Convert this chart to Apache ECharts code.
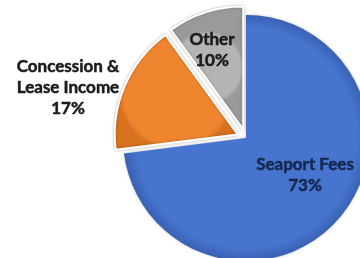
<!DOCTYPE html>
<html><head><meta charset="utf-8">
<script src="https://cdn.jsdelivr.net/npm/echarts@6/dist/echarts.min.js"></script>
<style>html,body{margin:0;padding:0;background:#fff}#c{width:360px;height:258px}</style>
</head><body><div id="c"></div>
<script>
const categories = ['Seaport Fees', 'Concession &\nLease Income', 'Other'];
const values = [73, 17, 10];
const explode = [0, 9, 9];

const colors = ['#4674CE', '#F0852F', '#B4B4B4'];
const edgeColors = ['#3A62B4', '#D8721F', '#9A9A9A'];
const labelColors = ['#16284F', '#1A1A1A', '#1A1A1A'];
const labelPos = [[305, 175], [68, 88], [212, 50]];

const CX = 246, CY = 138, R = 123;
const total = values.reduce((a, b) => a + b, 0);
let cum = 0;
const series = values.map((v, k) => {
  const mid = (cum + v / 2) / total * 2 * Math.PI;
  cum += v;
  const dx = explode[k] * Math.sin(mid), dy = -explode[k] * Math.cos(mid);
  return {
    type: 'pie',
    center: [CX + dx, CY + dy],
    radius: [0, R],
    startAngle: 90,
    clockwise: true,
    silent: true,
    labelLine: {show: false},
    emphasis: {disabled: true},
    label: {
      fontFamily: 'Lato',
      fontWeight: 'bold',
      fontSize: 17,
      lineHeight: 21,
      align: 'center',
      overflow: 'none',
      width: 140,
      textBorderWidth: 0.5,
      formatter: p => p.name + '\n' + p.value + '%'
    },
    labelLayout: p => p.dataIndex === k ? {
      x: labelPos[k][0], y: labelPos[k][1], align: 'center', verticalAlign: 'middle'
    } : {},
    data: categories.map((n, i) => ({
      name: n,
      value: values[i],
      itemStyle: i === k ? {
        color: {
          type: 'radial', x: 0.5, y: 0.5, r: 0.5,
          colorStops: [
            {offset: 0, color: colors[i]},
            {offset: 0.9, color: colors[i]},
            {offset: 1, color: edgeColors[i]}
          ]
        },
        borderColor: '#ffffff',
        borderWidth: k === 0 ? 0 : 2,
        shadowColor: 'rgba(0,0,0,0.25)',
        shadowBlur: 3
      } : {color: 'rgba(0,0,0,0)', borderWidth: 0},
      label: i === k
        ? {show: true, position: 'inside', color: labelColors[i], textBorderColor: labelColors[i]}
        : {show: false}
    }))
  };
});

const chart = echarts.init(document.getElementById('c'), null, {renderer: 'canvas'});
chart.setOption({animation: false, series: series});
</script></body></html>
